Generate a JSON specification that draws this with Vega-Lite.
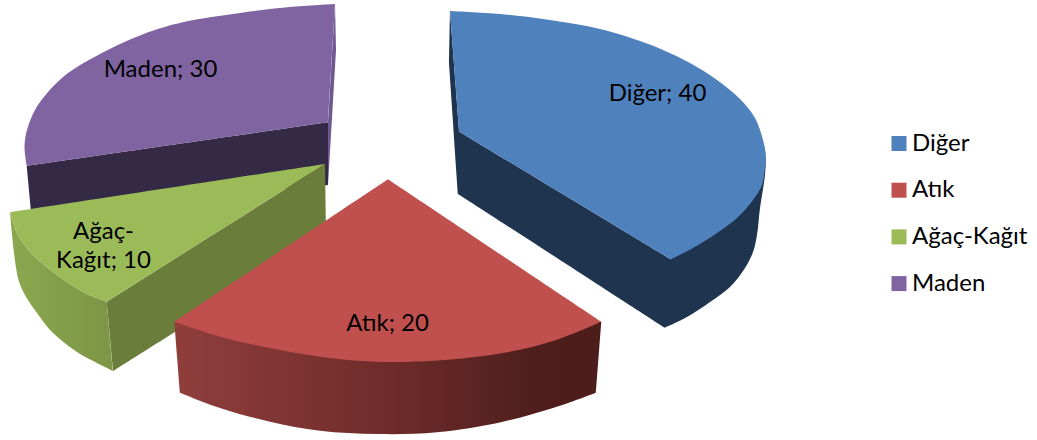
{
  "$schema": "https://vega.github.io/schema/vega-lite/v6.json",
  "width": 1037,
  "height": 440,
  "padding": 0,
  "autosize": {"type": "none"},
  "background": "white",
  "view": {"stroke": null},
  "config": {"font": "Lato", "text": {"font": "Lato"}},
  "datasets": {
    "faces": [
      {"face":"madenFront","x":26.7,"y":165.7},{"face":"madenFront","x":26.7,"y":165.7},{"face":"madenFront","x":328,"y":122.3},{"face":"madenFront","x":328,"y":122.3},{"face":"madenFront","x":328,"y":185},{"face":"madenFront","x":328,"y":185},{"face":"madenFront","x":31,"y":212},{"face":"madenFront","x":31,"y":212},
      {"face":"madenEdge","x":335,"y":4},{"face":"madenEdge","x":335,"y":4},{"face":"madenEdge","x":336,"y":50},{"face":"madenEdge","x":336,"y":50},{"face":"madenEdge","x":328,"y":185},{"face":"madenEdge","x":328,"y":185},{"face":"madenEdge","x":328,"y":122.3},{"face":"madenEdge","x":328,"y":122.3},
      {"face":"Maden","x":335,"y":4},{"face":"Maden","x":335,"y":4},{"face":"Maden","x":290,"y":7},{"face":"Maden","x":240,"y":13},{"face":"Maden","x":185,"y":21.7},{"face":"Maden","x":155,"y":30},{"face":"Maden","x":125,"y":41.7},{"face":"Maden","x":95,"y":56.7},{"face":"Maden","x":68,"y":73},{"face":"Maden","x":48,"y":92},{"face":"Maden","x":35,"y":110},{"face":"Maden","x":27,"y":130},{"face":"Maden","x":24.5,"y":147},{"face":"Maden","x":26.7,"y":165.7},{"face":"Maden","x":26.7,"y":165.7},{"face":"Maden","x":328,"y":122.3},{"face":"Maden","x":328,"y":122.3},
      {"face":"digerSide","x":450,"y":11},{"face":"digerSide","x":450,"y":11},{"face":"digerSide","x":449,"y":63},{"face":"digerSide","x":449,"y":63},{"face":"digerSide","x":458,"y":194},{"face":"digerSide","x":458,"y":194},{"face":"digerSide","x":664.7,"y":327.7},{"face":"digerSide","x":664.7,"y":327.7},{"face":"digerSide","x":687,"y":317},{"face":"digerSide","x":710,"y":302},{"face":"digerSide","x":730,"y":287},{"face":"digerSide","x":745,"y":268},{"face":"digerSide","x":753,"y":252},{"face":"digerSide","x":757,"y":235},{"face":"digerSide","x":760,"y":208},{"face":"digerSide","x":765,"y":175},{"face":"digerSide","x":766,"y":157},{"face":"digerSide","x":766,"y":157},{"face":"digerSide","x":670.7,"y":259.3},{"face":"digerSide","x":670.7,"y":259.3},{"face":"digerSide","x":459.3,"y":131.7},{"face":"digerSide","x":459.3,"y":131.7},
      {"face":"Diğer","x":450,"y":11},{"face":"Diğer","x":450,"y":11},{"face":"Diğer","x":500,"y":14},{"face":"Diğer","x":550,"y":20},{"face":"Diğer","x":600,"y":29},{"face":"Diğer","x":640,"y":41},{"face":"Diğer","x":663,"y":50},{"face":"Diğer","x":690,"y":63},{"face":"Diğer","x":717,"y":80},{"face":"Diğer","x":740,"y":99},{"face":"Diğer","x":755,"y":118},{"face":"Diğer","x":763,"y":140},{"face":"Diğer","x":766,"y":157},{"face":"Diğer","x":764.5,"y":172},{"face":"Diğer","x":762,"y":185},{"face":"Diğer","x":753,"y":200},{"face":"Diğer","x":737,"y":218},{"face":"Diğer","x":717,"y":233},{"face":"Diğer","x":693,"y":248},{"face":"Diğer","x":670.7,"y":259.3},{"face":"Diğer","x":670.7,"y":259.3},{"face":"Diğer","x":459.3,"y":131.7},{"face":"Diğer","x":459.3,"y":131.7},
      {"face":"agacFront","x":325,"y":164},{"face":"agacFront","x":325,"y":164},{"face":"agacFront","x":326,"y":237},{"face":"agacFront","x":326,"y":237},{"face":"agacFront","x":113,"y":371},{"face":"agacFront","x":113,"y":371},{"face":"agacFront","x":106.7,"y":301.7},{"face":"agacFront","x":106.7,"y":301.7},
      {"face":"agacArc","x":10,"y":212.3},{"face":"agacArc","x":10,"y":212.3},{"face":"agacArc","x":18,"y":235},{"face":"agacArc","x":33,"y":255},{"face":"agacArc","x":57,"y":275},{"face":"agacArc","x":83,"y":292},{"face":"agacArc","x":106.7,"y":301.7},{"face":"agacArc","x":106.7,"y":301.7},{"face":"agacArc","x":113,"y":371},{"face":"agacArc","x":113,"y":371},{"face":"agacArc","x":97,"y":363},{"face":"agacArc","x":77,"y":352},{"face":"agacArc","x":53,"y":333},{"face":"agacArc","x":37,"y":313},{"face":"agacArc","x":25,"y":295},{"face":"agacArc","x":18,"y":278},
      {"face":"Ağaç-Kağıt","x":10,"y":212.3},{"face":"Ağaç-Kağıt","x":10,"y":212.3},{"face":"Ağaç-Kağıt","x":325,"y":164},{"face":"Ağaç-Kağıt","x":325,"y":164},{"face":"Ağaç-Kağıt","x":106.7,"y":301.7},{"face":"Ağaç-Kağıt","x":106.7,"y":301.7},{"face":"Ağaç-Kağıt","x":83,"y":292},{"face":"Ağaç-Kağıt","x":57,"y":275},{"face":"Ağaç-Kağıt","x":33,"y":255},{"face":"Ağaç-Kağıt","x":18,"y":235},
      {"face":"atikSide","x":174.3,"y":321.7},{"face":"atikSide","x":174.3,"y":321.7},{"face":"atikSide","x":180,"y":392.7},{"face":"atikSide","x":180,"y":392.7},{"face":"atikSide","x":220,"y":408},{"face":"atikSide","x":270,"y":421.7},{"face":"atikSide","x":320,"y":430.7},{"face":"atikSide","x":377,"y":434},{"face":"atikSide","x":437,"y":432.3},{"face":"atikSide","x":503,"y":421.7},{"face":"atikSide","x":553,"y":408},{"face":"atikSide","x":596,"y":392.7},{"face":"atikSide","x":596,"y":392.7},{"face":"atikSide","x":601.3,"y":321.7},{"face":"atikSide","x":601.3,"y":321.7},
      {"face":"Atık","x":388,"y":179.3},{"face":"Atık","x":388,"y":179.3},{"face":"Atık","x":601.3,"y":321.7},{"face":"Atık","x":601.3,"y":321.7},{"face":"Atık","x":553,"y":341},{"face":"Atık","x":503,"y":353},{"face":"Atık","x":437,"y":360.5},{"face":"Atık","x":377,"y":361.7},{"face":"Atık","x":320,"y":356.7},{"face":"Atık","x":270,"y":348},{"face":"Atık","x":220,"y":336.7},{"face":"Atık","x":174.3,"y":321.7},{"face":"Atık","x":174.3,"y":321.7}
    ],
    "slices": [
      {"slice":"Diğer","value":40,"label":"Diğer; 40","lx":657.5,"ly":94},
      {"slice":"Atık","value":20,"label":"Atık; 20","lx":387.5,"ly":324},
      {"slice":"Ağaç-Kağıt","value":10,"label":"Ağaç-\nKağıt; 10","lx":103.5,"ly":232},
      {"slice":"Maden","value":30,"label":"Maden; 30","lx":160.5,"ly":70}
    ]
  },
  "data": {"name": "faces"},
  "encoding": {
    "x": {"field": "x", "type": "quantitative", "scale": {"domain": [0, 1037], "nice": false, "zero": false}, "axis": null},
    "y": {"field": "y", "type": "quantitative", "scale": {"domain": [440, 0], "nice": false, "zero": false}, "axis": null},
    "order": {"field": "n", "type": "ordinal"}
  },
  "layer": [
    {"transform": [{"filter": "datum.face === 'madenFront'"}, {"window": [{"op": "row_number", "as": "n"}]}],
     "mark": {"type": "line", "interpolate": "catmull-rom-closed", "filled": true, "fill": "#352a46", "stroke": null}},
    {"transform": [{"filter": "datum.face === 'madenEdge'"}, {"window": [{"op": "row_number", "as": "n"}]}],
     "mark": {"type": "line", "interpolate": "catmull-rom-closed", "filled": true, "fill": "#6f5790", "stroke": null}},
    {"transform": [{"filter": "datum.face === 'Maden'"}, {"window": [{"op": "row_number", "as": "n"}]}],
     "mark": {"type": "line", "interpolate": "catmull-rom-closed", "filled": true, "stroke": null},
     "encoding": {"color": {"field": "face", "type": "nominal",
       "scale": {"domain": ["Diğer", "Atık", "Ağaç-Kağıt", "Maden"], "range": ["#4f81bd", "#c0504d", "#9bbb59", "#8064a2"]},
       "legend": {"orient": "none", "legendX": 887, "legendY": 131.5, "title": null, "symbolType": "square", "symbolSize": 225, "symbolStrokeWidth": 0, "labelFontSize": 24, "labelFont": "Lato", "labelColor": "black", "labelOffset": 1, "rowPadding": 22.7, "labelLimit": 200, "values": ["Diğer", "Atık", "Ağaç-Kağıt", "Maden"]}}}},
    {"transform": [{"filter": "datum.face === 'digerSide'"}, {"window": [{"op": "row_number", "as": "n"}]}],
     "mark": {"type": "line", "interpolate": "catmull-rom-closed", "filled": true, "fill": "#1f344f", "stroke": null}},
    {"transform": [{"filter": "datum.face === 'Diğer'"}, {"window": [{"op": "row_number", "as": "n"}]}],
     "mark": {"type": "line", "interpolate": "catmull-rom-closed", "filled": true, "stroke": null},
     "encoding": {"color": {"field": "face", "type": "nominal"}}},
    {"transform": [{"filter": "datum.face === 'agacFront'"}, {"window": [{"op": "row_number", "as": "n"}]}],
     "mark": {"type": "line", "interpolate": "catmull-rom-closed", "filled": true, "fill": "#6a7d3a", "stroke": null}},
    {"transform": [{"filter": "datum.face === 'agacArc'"}, {"window": [{"op": "row_number", "as": "n"}]}],
     "mark": {"type": "line", "interpolate": "catmull-rom-closed", "filled": true, "stroke": null,
       "fill": {"gradient": "linear", "x1": 0, "y1": 0, "x2": 1, "y2": 0, "stops": [{"offset": 0, "color": "#8ba84f"}, {"offset": 1, "color": "#7c9546"}]}}},
    {"transform": [{"filter": "datum.face === 'Ağaç-Kağıt'"}, {"window": [{"op": "row_number", "as": "n"}]}],
     "mark": {"type": "line", "interpolate": "catmull-rom-closed", "filled": true, "stroke": null},
     "encoding": {"color": {"field": "face", "type": "nominal"}}},
    {"transform": [{"filter": "datum.face === 'atikSide'"}, {"window": [{"op": "row_number", "as": "n"}]}],
     "mark": {"type": "line", "interpolate": "catmull-rom-closed", "filled": true, "stroke": null,
       "fill": {"gradient": "linear", "x1": 0, "y1": 0, "x2": 1, "y2": 0, "stops": [{"offset": 0, "color": "#903e3c"}, {"offset": 0.5, "color": "#6e2c2a"}, {"offset": 0.85, "color": "#4f1e1c"}, {"offset": 1, "color": "#4d1d1b"}]}}},
    {"transform": [{"filter": "datum.face === 'Atık'"}, {"window": [{"op": "row_number", "as": "n"}]}],
     "mark": {"type": "line", "interpolate": "catmull-rom-closed", "filled": true, "stroke": null},
     "encoding": {"color": {"field": "face", "type": "nominal"}}},
    {"data": {"name": "slices"},
     "mark": {"type": "text", "fontSize": 24, "font": "Lato", "color": "black", "lineBreak": "\n", "lineHeight": 29, "align": "center", "baseline": "middle"},
     "encoding": {
       "x": {"field": "lx", "type": "quantitative"},
       "y": {"field": "ly", "type": "quantitative"},
       "order": null,
       "text": {"field": "label"}}}
  ]
}
